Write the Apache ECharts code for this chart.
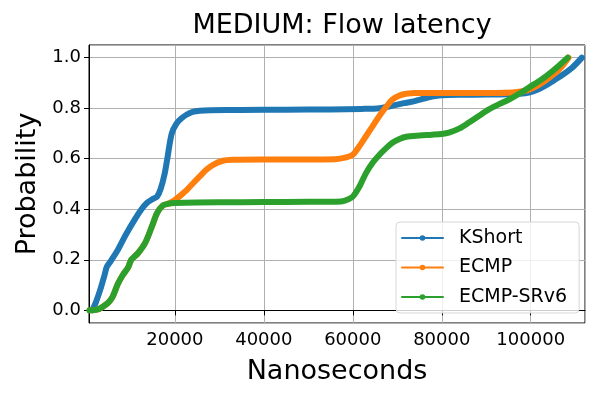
<!DOCTYPE html>
<html>
<head>
<meta charset="utf-8">
<script src="https://cdn.jsdelivr.net/npm/echarts@6/dist/echarts.min.js"></script>
<style>
  html, body { margin: 0; padding: 0; background: #fff; }
  #main { width: 600px; height: 400px; }
</style>
</head>
<body>
<div id="main"></div>
<script>
var seriesNames = ['KShort', 'ECMP', 'ECMP-SRv6'];

// KShort
var kshortX = [1400, 2200, 3200, 4200, 4700, 5400, 7200, 9000, 11000, 12500, 13700, 15000, 16000, 16800, 17700, 18300, 19300, 20400, 21500, 22700, 24000, 25600, 28000, 35000, 45000, 55000, 62000, 66000, 69000, 71500, 73400, 75500, 77800, 80000, 85000, 90000, 95000, 97500, 99600, 101500, 103400, 105200, 107000, 109300, 111500];
var kshortY = [0, 0.03, 0.08, 0.14, 0.172, 0.19, 0.24, 0.30, 0.36, 0.40, 0.425, 0.44, 0.45, 0.48, 0.54, 0.60, 0.70, 0.74, 0.76, 0.775, 0.785, 0.79, 0.792, 0.793, 0.794, 0.795, 0.797, 0.80, 0.81, 0.82, 0.826, 0.836, 0.846, 0.851, 0.853, 0.854, 0.855, 0.857, 0.862, 0.873, 0.89, 0.91, 0.93, 0.96, 1.0];

// ECMP
var ecmpX = [1000, 2500, 3600, 5000, 5900, 7200, 8300, 9500, 10200, 11700, 13300, 14800, 16000, 17300, 18500, 20000, 21300, 22700, 24200, 25600, 27000, 28500, 30800, 33000, 40000, 50000, 56000, 58500, 60000, 61500, 63000, 64500, 66000, 67500, 68900, 70500, 72000, 74000, 78000, 85000, 92000, 96000, 98500, 100500, 102500, 104500, 106500, 108500];
var ecmpY = [0, 0.003, 0.012, 0.03, 0.05, 0.105, 0.14, 0.17, 0.2, 0.226, 0.266, 0.33, 0.385, 0.415, 0.422, 0.437, 0.455, 0.477, 0.505, 0.53, 0.555, 0.575, 0.592, 0.596, 0.597, 0.597, 0.598, 0.605, 0.616, 0.65, 0.69, 0.73, 0.77, 0.805, 0.834, 0.85, 0.857, 0.86, 0.86, 0.86, 0.86, 0.862, 0.868, 0.88, 0.9, 0.925, 0.955, 1.0];

// ECMP-SRv6
var srv6X = [800, 2500, 3600, 5000, 5900, 7200, 8300, 9500, 10200, 11700, 13300, 14800, 16000, 17300, 18500, 20000, 25000, 35000, 45000, 55000, 57700, 59000, 60000, 61500, 63000, 64500, 66000, 67500, 68900, 70500, 72000, 75000, 77800, 80000, 81600, 84000, 86100, 88400, 90600, 92800, 95100, 97300, 99600, 101500, 103400, 105800, 108300];
var srv6Y = [0, 0.003, 0.012, 0.03, 0.05, 0.105, 0.14, 0.17, 0.2, 0.226, 0.266, 0.33, 0.385, 0.415, 0.422, 0.425, 0.427, 0.428, 0.429, 0.43, 0.432, 0.44, 0.45, 0.49, 0.544, 0.585, 0.616, 0.642, 0.663, 0.678, 0.687, 0.692, 0.695, 0.698, 0.703, 0.72, 0.743, 0.77, 0.795, 0.815, 0.834, 0.856, 0.882, 0.903, 0.926, 0.96, 1.0];

var colors = ['#1f77b4', '#ff7f0e', '#2ca02c'];
var font = 'DejaVu Sans';

function pairs(xs, ys) {
  var out = [];
  for (var i = 0; i < xs.length; i++) out.push([xs[i], ys[i]]);
  return out;
}

function makeSeries(name, xs, ys) {
  return {
    name: name,
    type: 'line',
    smooth: 0.3,
    symbol: 'circle',
    symbolSize: 6,
    showSymbol: false,
    lineStyle: { width: 6, cap: 'round', join: 'round' },
    data: pairs(xs, ys)
  };
}

var chart = echarts.init(document.getElementById('main'));
chart.setOption({
  animation: false,
  color: colors,
  textStyle: { fontFamily: font },
  title: {
    text: 'MEDIUM: Flow latency',
    left: 337,
    top: 7,
    textAlign: 'center',
    textStyle: { fontFamily: font, fontSize: 27, fontWeight: 'normal', color: '#000' }
  },
  grid: {
    left: 89, right: 15, top: 45, bottom: 77,
    show: true, borderColor: '#000', borderWidth: 1
  },
  legend: {
    orient: 'vertical',
    left: 396,
    top: 222,
    padding: [6, 12, 6, 5],
    itemWidth: 41,
    itemHeight: 7,
    itemGap: 9.5,
    backgroundColor: 'rgba(255,255,255,0.8)',
    borderColor: '#d6d6d6',
    borderWidth: 1,
    borderRadius: 4,
    lineStyle: { width: 2 },
    textStyle: { fontFamily: font, fontSize: 19, color: '#000', lineHeight: 20, padding: [0, 0, 0, 11] },
    data: seriesNames
  },
  xAxis: {
    type: 'value',
    min: 700,
    max: 112200,
    splitNumber: 5,
    name: 'Nanoseconds',
    nameLocation: 'middle',
    nameGap: 35,
    nameTextStyle: { fontFamily: font, fontSize: 27, color: '#000' },
    axisLine: { show: true, lineStyle: { color: '#000', width: 1 } },
    axisTick: { show: true, length: 5, lineStyle: { color: '#000' } },
    axisLabel: {
      showMinLabel: false, showMaxLabel: false,
      fontFamily: font, fontSize: 18, color: '#000', margin: 8,
      formatter: function (v) { return String(v); }
    },
    splitLine: { show: true, lineStyle: { color: '#b0b0b0', width: 1 } }
  },
  yAxis: {
    type: 'value',
    min: -0.05,
    max: 1.05,
    splitNumber: 5,
    name: 'Probability',
    nameLocation: 'middle',
    nameGap: 47,
    nameTextStyle: { fontFamily: font, fontSize: 27, color: '#000' },
    axisLine: { show: true, lineStyle: { color: '#000', width: 1 } },
    axisTick: { show: true, length: 5, lineStyle: { color: '#000' } },
    axisLabel: {
      showMinLabel: false, showMaxLabel: false,
      fontFamily: font, fontSize: 18, color: '#000', margin: 8,
      formatter: function (v) { return v.toFixed(1); }
    },
    splitLine: { show: true, lineStyle: { color: '#b0b0b0', width: 1 } }
  },
  series: [
    makeSeries(seriesNames[0], kshortX, kshortY),
    makeSeries(seriesNames[1], ecmpX, ecmpY),
    makeSeries(seriesNames[2], srv6X, srv6Y)
  ]
});
</script>
</body>
</html>
